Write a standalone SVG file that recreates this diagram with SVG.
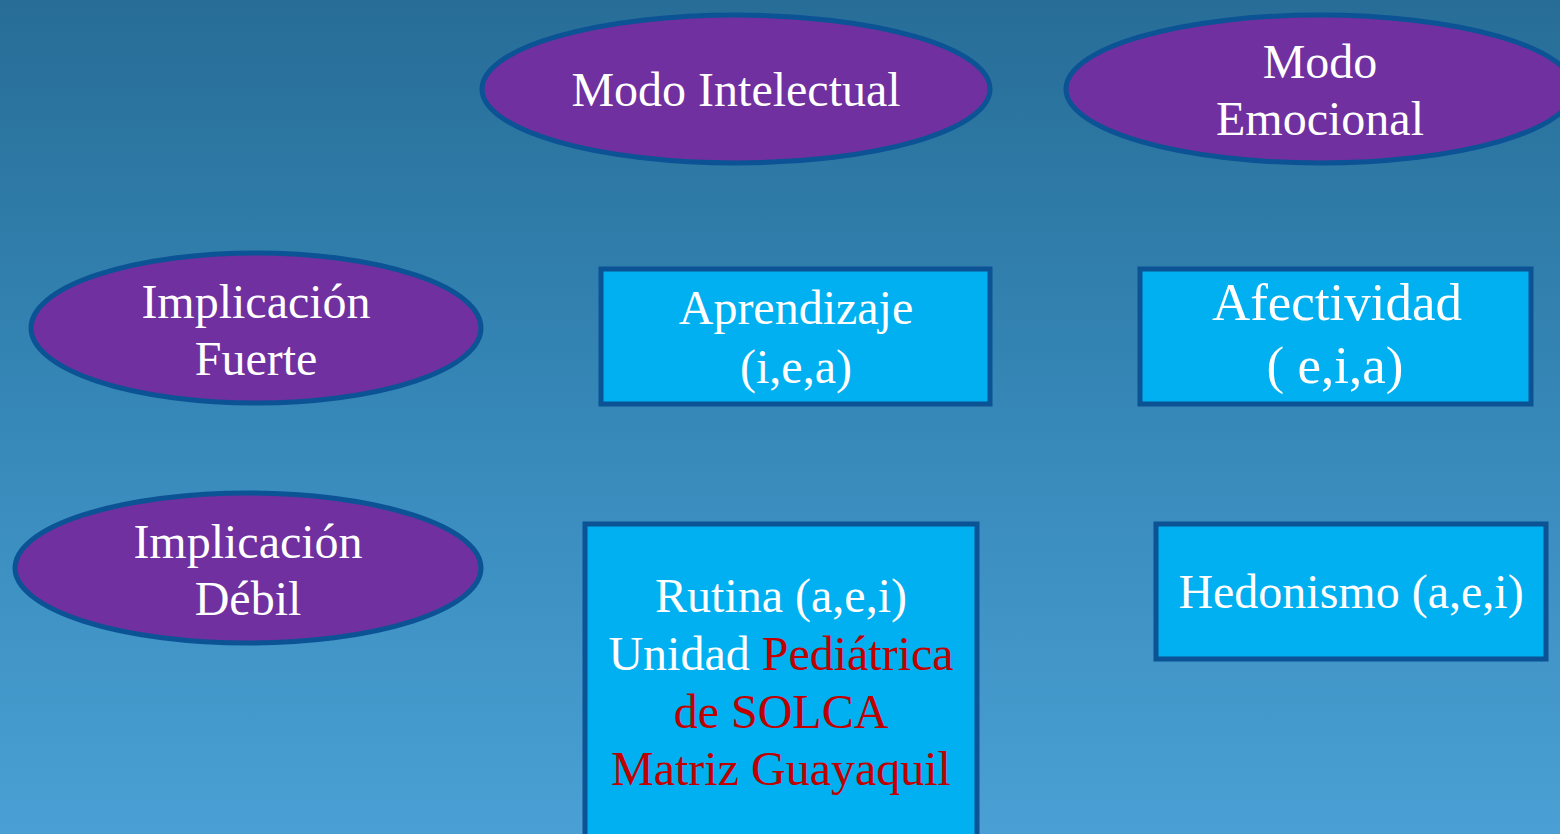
<svg xmlns="http://www.w3.org/2000/svg" width="1560" height="834" viewBox="0 0 1560 834">
<defs>
<linearGradient id="bg" x1="0" y1="0" x2="0" y2="1">
<stop offset="0" stop-color="#276d97"/>
<stop offset="0.5" stop-color="#3688b8"/>
<stop offset="1" stop-color="#4aa0d4"/>
</linearGradient>
<style>
.ell{fill:#7030a0;stroke:#0b5394;stroke-width:5}
.box{fill:#00b0f0;stroke:#0b5394;stroke-width:5}
.t{font-family:"Liberation Serif","Times New Roman",serif;font-size:48px;fill:#ffffff;text-anchor:middle}
.big{font-size:53px}
.red{fill:#c00000}
</style>
</defs>
<rect x="0" y="0" width="1560" height="834" fill="url(#bg)"/>
<g id="connectors"></g>
<g id="modo-intelectual">
<ellipse class="ell" cx="736" cy="89" rx="254" ry="74"/>
<text class="t" x="736" y="106">Modo Intelectual</text>
</g>
<g id="modo-emocional">
<ellipse class="ell" cx="1320" cy="89" rx="254" ry="74"/>
<text class="t" x="1320" y="78">Modo</text>
<text class="t" x="1320" y="135">Emocional</text>
</g>
<g id="implicacion-fuerte">
<ellipse class="ell" cx="256" cy="328" rx="225" ry="75"/>
<text class="t" x="256" y="318">Implicación</text>
<text class="t" x="256" y="375">Fuerte</text>
</g>
<g id="implicacion-debil">
<ellipse class="ell" cx="248" cy="568" rx="233" ry="75"/>
<text class="t" x="248" y="558">Implicación</text>
<text class="t" x="248" y="615">Débil</text>
</g>
<g id="aprendizaje">
<rect class="box" x="601" y="269" width="389" height="135"/>
<text class="t" x="796" y="324">Aprendizaje</text>
<text class="t" x="796" y="383">(i,e,a)</text>
</g>
<g id="afectividad">
<rect class="box" x="1140" y="269" width="391" height="135"/>
<text class="t big" x="1337" y="320">Afectividad</text>
<text class="t big" x="1335" y="383">( e,i,a)</text>
</g>
<g id="rutina">
<rect class="box" x="585" y="524" width="392" height="320"/>
<text class="t" x="781" y="612">Rutina (a,e,i)</text>
<text class="t" x="781" y="670">Unidad <tspan class="red">Pediátrica</tspan></text>
<text class="t red" x="781" y="728">de SOLCA</text>
<text class="t red" x="781" y="785">Matriz Guayaquil</text>
</g>
<g id="hedonismo">
<rect class="box" x="1156" y="524" width="390" height="135"/>
<text class="t" x="1351" y="608">Hedonismo (a,e,i)</text>
</g>
</svg>
